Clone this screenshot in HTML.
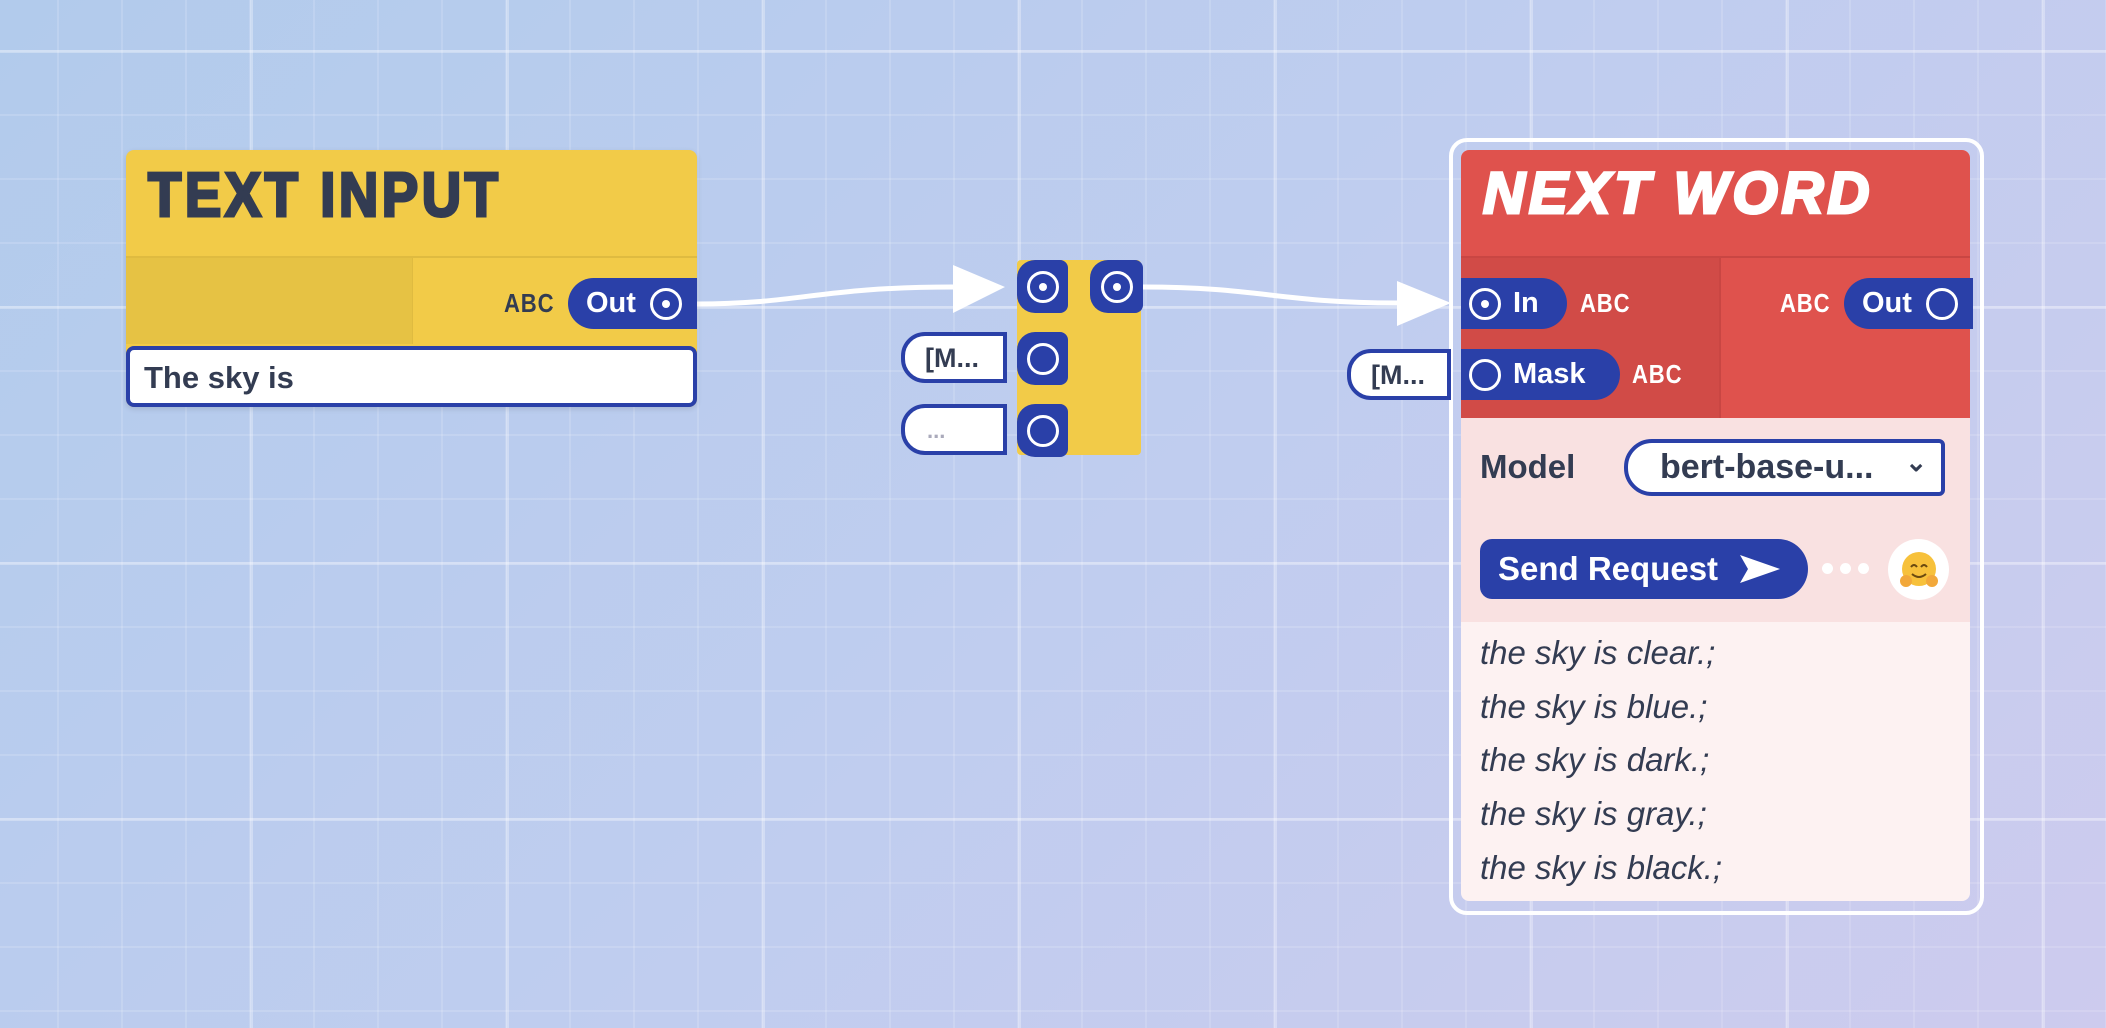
<!DOCTYPE html>
<html><head><meta charset="utf-8"><style>
*{box-sizing:border-box;margin:0;padding:0}
body{width:2106px;height:1028px;overflow:hidden;position:relative;font-family:"Liberation Sans",sans-serif;
background:linear-gradient(135deg,#b2cbec 0%,#bfcdef 50%,#cdcbee 100%)}
.grid{position:absolute;inset:0;
background-image:
linear-gradient(to right,rgba(255,255,255,.3) 3px,transparent 3px),
linear-gradient(to bottom,rgba(255,255,255,.3) 3px,transparent 3px),
linear-gradient(to right,rgba(255,255,255,.14) 2px,transparent 2px),
linear-gradient(to bottom,rgba(255,255,255,.14) 2px,transparent 2px);
background-size:256px 256px,256px 256px,64px 64px,64px 64px;
background-position:250px 0,0 50px,57px 0,0 50px}
.a{position:absolute}
.pill{position:absolute;background:#2a40a8;color:#fff;font-weight:bold;font-size:29px;display:flex;align-items:center;border-radius:26px}
.ring{width:32px;height:32px;border:3px solid #fff;border-radius:50%;position:relative;flex:none}
.ring.d::after{content:"";position:absolute;left:9px;top:9px;width:8px;height:8px;background:#fff;border-radius:50%}
.abc{position:absolute;font-weight:bold;font-size:26px;letter-spacing:1px;transform:scaleX(.85);transform-origin:left center}
.field{position:absolute;background:#fff;border:4px solid #2a40a8;color:#333c52;font-weight:bold}
.res{position:absolute;left:1480px;font-style:italic;font-size:33px;color:#333c52}
</style></head><body>
<div class="grid"></div>

<svg class="a" style="left:0;top:0" width="2106" height="1028">
<path d="M697 304 C 800 304, 820 287, 953 287" stroke="#fff" stroke-width="5" fill="none"/>
<polygon points="953,265 1005,287 953,313" fill="#fff"/>
<path d="M1143 287 C 1260 287, 1280 303, 1397 303" stroke="#fff" stroke-width="5" fill="none"/>
<polygon points="1397,281 1451,303 1397,326" fill="#fff"/>
</svg>

<!-- TEXT INPUT node -->
<div class="a" style="left:126px;top:150px;width:571px;height:257px;background:#f2cb48;border-radius:8px;box-shadow:0 2px 6px rgba(0,0,0,.12)"></div>
<div class="a" style="left:126px;top:256px;width:286px;height:88px;background:#e6c244;border-top:2px solid #dfbb40"></div>
<div class="a" style="left:412px;top:256px;width:285px;height:88px;border-top:2px solid #dfbb40;border-left:1px solid #dfbb40"></div>
<div class="a" style="left:148px;top:160px;font-size:62px;font-weight:bold;color:#333c52;letter-spacing:4px;-webkit-text-stroke:3px #333c52;transform:scaleX(.88);transform-origin:left">TEXT INPUT</div>
<div class="abc" style="left:504px;top:288px;color:#333c52">ABC</div>
<div class="pill" style="left:568px;top:278px;width:129px;height:51px;padding-left:18px;border-radius:26px 0 0 26px">Out<div class="ring d" style="margin-left:14px"></div></div>
<div class="field" style="left:126px;top:346px;width:571px;height:61px;border-radius:8px;font-size:31px;padding:10px 0 0 14px">The sky is</div>

<!-- middle join node -->
<div class="a" style="left:1017px;top:260px;width:124px;height:195px;background:#f2cb48;border-radius:4px"></div>
<div class="pill" style="left:1017px;top:260px;width:51px;height:53px;border-radius:18px 8px 8px 18px;justify-content:center"><div class="ring d"></div></div>
<div class="pill" style="left:1090px;top:260px;width:53px;height:53px;border-radius:18px 8px 8px 18px;justify-content:center"><div class="ring d"></div></div>
<div class="pill" style="left:1017px;top:332px;width:51px;height:53px;border-radius:18px 8px 8px 18px;justify-content:center"><div class="ring"></div></div>
<div class="pill" style="left:1017px;top:404px;width:51px;height:53px;border-radius:18px 8px 8px 18px;justify-content:center"><div class="ring"></div></div>
<div class="field" style="left:901px;top:332px;width:106px;height:51px;border-radius:24px 0 0 24px;font-size:27px;padding:7px 0 0 20px">[M...</div>
<div class="field" style="left:901px;top:404px;width:106px;height:51px;border-radius:24px 0 0 24px;font-size:22px;padding:10px 0 0 22px;color:#aab">...</div>

<!-- NEXT WORD node -->
<div class="a" style="left:1449px;top:138px;width:535px;height:777px;border:4px solid #fff;border-radius:18px"></div>
<div class="a" style="left:1461px;top:150px;width:509px;height:751px;background:#fdf2f2;border-radius:8px;overflow:hidden">
  <div class="a" style="left:0;top:0;width:509px;height:268px;background:#df524d"></div>
  <div class="a" style="left:0;top:106px;width:258px;height:162px;background:#d14b47;border-top:2px solid #c94643"></div>
  <div class="a" style="left:258px;top:106px;width:251px;height:162px;border-top:2px solid #c94643;border-left:2px solid #c94643"></div>
  <div class="a" style="left:0;top:268px;width:509px;height:204px;background:#f9e1e1"></div>
</div>
<div class="a" style="left:1483px;top:160px;font-size:58px;font-weight:bold;font-style:italic;color:#fff;letter-spacing:4px;-webkit-text-stroke:3px #fff">NEXT WORD</div>
<div class="pill" style="left:1461px;top:278px;width:106px;height:51px;padding-left:8px;border-radius:0 26px 26px 0"><div class="ring d" style="margin-right:12px"></div>In</div>
<div class="abc" style="left:1580px;top:288px;color:#fff">ABC</div>
<div class="pill" style="left:1461px;top:349px;width:159px;height:51px;padding-left:8px;border-radius:0 26px 26px 0"><div class="ring" style="margin-right:12px"></div>Mask</div>
<div class="abc" style="left:1632px;top:359px;color:#fff">ABC</div>
<div class="abc" style="left:1780px;top:288px;color:#fff">ABC</div>
<div class="pill" style="left:1844px;top:278px;width:129px;height:51px;padding-left:18px;border-radius:26px 0 0 26px">Out<div class="ring" style="margin-left:14px"></div></div>
<div class="field" style="left:1347px;top:349px;width:104px;height:51px;border-radius:24px 0 0 24px;font-size:27px;padding:7px 0 0 20px">[M...</div>

<div class="a" style="left:1480px;top:448px;font-size:33px;font-weight:bold;color:#333c52">Model</div>
<div class="field" style="left:1624px;top:439px;width:321px;height:57px;border-radius:28px 6px 6px 28px;font-size:34px;padding:5px 0 0 32px">bert-base-u...<span style="position:absolute;right:14px;top:4px;font-size:26px">&#8964;</span></div>
<div class="pill" style="left:1480px;top:539px;width:328px;height:60px;border-radius:12px 30px 30px 12px;padding-left:18px;font-size:33px">Send Request
<svg width="44" height="34" style="margin-left:20px"><polygon points="2,3 42,17 2,31 10,17" fill="#fff"/></svg></div>
<div class="a" style="left:1822px;top:563px;width:11px;height:11px;border-radius:50%;background:#fff"></div>
<div class="a" style="left:1840px;top:563px;width:11px;height:11px;border-radius:50%;background:#fff"></div>
<div class="a" style="left:1858px;top:563px;width:11px;height:11px;border-radius:50%;background:#fff"></div>
<div class="a" style="left:1888px;top:539px;width:61px;height:61px;border-radius:50%;background:#fff;text-align:center">
<svg width="44" height="44" style="margin-top:9px"><circle cx="22" cy="21" r="17" fill="#f7c13b"/><path d="M14 19 q3 -4 6 0 M24 19 q3 -4 6 0" stroke="#6b4a10" stroke-width="2" fill="none"/><path d="M15 26 q7 6 14 0" stroke="#6b4a10" stroke-width="2" fill="none"/><circle cx="9" cy="33" r="6" fill="#f2a83a"/><circle cx="35" cy="33" r="6" fill="#f2a83a"/></svg></div>

<div class="res" style="top:634px">the sky is clear.;</div>
<div class="res" style="top:688px">the sky is blue.;</div>
<div class="res" style="top:741px">the sky is dark.;</div>
<div class="res" style="top:795px">the sky is gray.;</div>
<div class="res" style="top:849px">the sky is black.;</div>
</body></html>
